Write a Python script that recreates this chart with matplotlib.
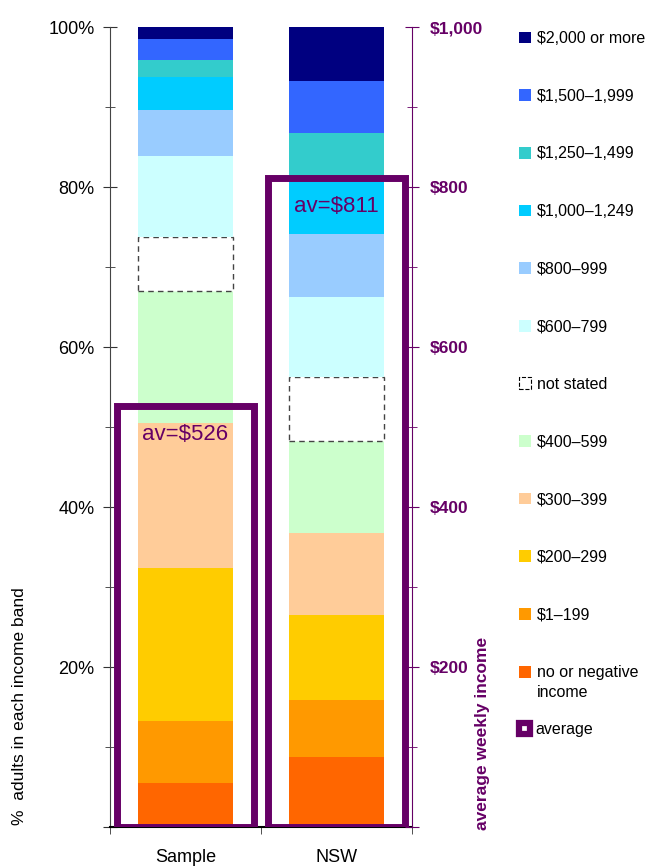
import matplotlib.pyplot as plt
from matplotlib.patches import Patch, Rectangle
from matplotlib.legend_handler import HandlerPatch

plt.rcParams['font.family'] = ['Liberation Sans', 'DejaVu Sans']

# income bands, bottom of the stack first
groups = ['Sample', 'NSW']
bands = ['no or negative\nincome', '$1–199', '$200–299', '$300–399', '$400–599', 'not stated',
         '$600–799', '$800–999', '$1,000–1,249', '$1,250–1,499', '$1,500–1,999', '$2,000 or more']
sample_pct = [5.5, 7.75, 19.15, 18.1, 16.5, 6.7, 10.2, 5.7, 4.15, 2.15, 2.6, 1.5]
nsw_pct = [8.75, 7.15, 10.6, 10.25, 11.5, 7.95, 10.0, 7.9, 6.9, 5.75, 6.5, 6.75]
band_colors = ['#FF6600', '#FF9900', '#FFCC00', '#FFCC99', '#CCFFCC', 'white',
               '#CCFFFF', '#99CCFF', '#00CCFF', '#33CCCC', '#3366FF', '#000080']
avg_income = [526, 811]

pct_ticks = [0, 20, 40, 60, 80, 100]
pct_labels = ['', '20%', '40%', '60%', '80%', '100%']
inc_ticks = [0, 200, 400, 600, 800, 1000]
inc_labels = ['', '$200', '$400', '$600', '$800', '$1,000']

purple = '#660066'

fig = plt.figure(figsize=(6.47, 8.67), dpi=100)
ax = fig.add_axes([110 / 647, 1 - 827 / 867, 302 / 647, 800 / 867])

x = list(range(len(groups)))
bottoms = [0, 0]
for i, band in enumerate(bands):
    vals = [sample_pct[i], nsw_pct[i]]
    if band == 'not stated':
        ax.bar(x, vals, 0.63, bottom=bottoms, facecolor='white', edgecolor='#444444',
               linestyle=(0, (4, 3)), linewidth=1)
    else:
        ax.bar(x, vals, 0.63, bottom=bottoms, color=band_colors[i], linewidth=0)
    bottoms = [b + v for b, v in zip(bottoms, vals)]

ax.set_xlim(-0.5, 1.5)
ax.set_ylim(0, 100)
ax.set_yticks(pct_ticks, pct_labels, fontsize=13)
ax.set_yticks([10, 30, 50, 70, 90], minor=True)
ax.tick_params(axis='y', which='major', direction='inout', length=10, color='#333333', pad=6)
ax.tick_params(axis='y', which='minor', direction='inout', length=7, color='#333333')
ax.set_xticks(x, groups, fontsize=13)
ax.set_xticks([-0.5, 0.5, 1.5], minor=True)
ax.tick_params(axis='x', which='major', length=0, pad=16)
ax.tick_params(axis='x', which='minor', direction='out', length=5, color='#333333')
ax.spines['top'].set_visible(False)
ax.spines['right'].set_visible(False)
ax.spines['left'].set_color('#444444')
ax.spines['bottom'].set_linewidth(1.5)

# averages on the right-hand scale
ax2 = ax.twinx()
ax2.set_ylim(0, 1000)
ax2.bar(x, avg_income, 0.907, facecolor='none', edgecolor=purple, linewidth=5)
for xi, v in zip(x, avg_income):
    ax2.annotate('av=\\$%d' % v, (xi, v), xytext=(0, -13), textcoords='offset points',
                 ha='center', va='top', color=purple, fontsize=16)
ax2.set_yticks(inc_ticks, inc_labels, fontsize=12.5, fontweight='bold', color=purple)
ax2.set_yticks([100, 300, 500, 700, 900], minor=True)
ax2.tick_params(axis='y', which='major', direction='inout', length=10, color=purple, pad=8)
ax2.tick_params(axis='y', which='minor', direction='inout', length=7, color=purple)
for s in ['top', 'left', 'bottom']:
    ax2.spines[s].set_visible(False)
ax2.spines['right'].set_color(purple)

fig.text(20 / 647, 1 - 825 / 867, '%  adults in each income band', rotation=90,
         ha='center', va='bottom', fontsize=12.5)
fig.text(482 / 647, 1 - 830 / 867, 'average weekly income', rotation=90,
         ha='center', va='bottom', fontsize=12.5, fontweight='bold', color=purple)


def top_line_patch(legend, orig_handle, xdescent, ydescent, width, height, fontsize):
    # keep the marker level with the first line of a two-line label
    return Rectangle((-xdescent, -ydescent + 0.69 * fontsize), width, height)


handles = []
handler_map = {}
for band, c in zip(bands, band_colors):
    if band == 'not stated':
        h = Patch(facecolor='white', edgecolor='black', linestyle='--', linewidth=0.8)
    else:
        h = Patch(facecolor=c, edgecolor='none')
    if '\n' in band:
        handler_map[h] = HandlerPatch(patch_func=top_line_patch)
    handles.append(h)
leg = fig.legend(handles[::-1], bands[::-1], loc='upper left',
                 bbox_to_anchor=(519 / 647, 1 - 31 / 867), handler_map=handler_map,
                 frameon=False, fontsize=11.5, handlelength=0.75, handleheight=0.75,
                 handletextpad=0.35, labelspacing=2.67, borderpad=0, borderaxespad=0)
for t in leg.get_texts():
    t.set_linespacing(1.4)
fig.legend([Patch(facecolor='white', edgecolor=purple, linewidth=4.5)], ['average'],
           loc='upper left', bbox_to_anchor=(519 / 647, 1 - 722 / 867),
           frameon=False, fontsize=11.5, handlelength=0.7, handleheight=0.7,
           handletextpad=0.35, borderpad=0, borderaxespad=0)

fig.savefig('out.png', dpi=100)
